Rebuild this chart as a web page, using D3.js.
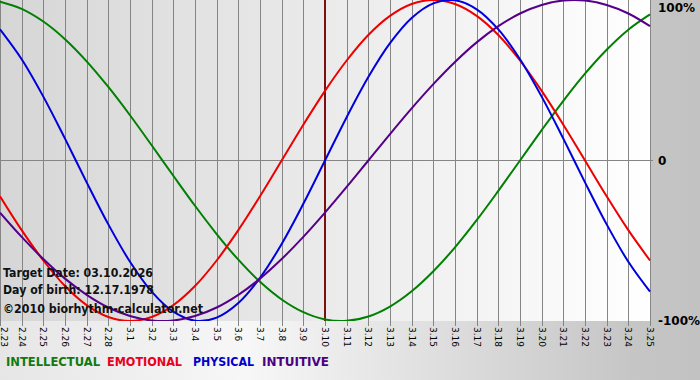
<!DOCTYPE html>
<html><head><meta charset="utf-8">
<script src="https://cdn.jsdelivr.net/npm/d3@7/dist/d3.min.js"></script>
<style>html,body{margin:0;padding:0;overflow:hidden;background:#fff}</style>
</head><body>
<svg id="chart" width="700" height="380"></svg>
<script>
const days = ["2.23","2.24","2.25","2.26","2.27","2.28","3.1","3.2","3.3","3.4","3.5","3.6","3.7","3.8","3.9","3.10","3.11","3.12","3.13","3.14","3.15","3.16","3.17","3.18","3.19","3.20","3.21","3.22","3.23","3.24","3.25"];
const intellectual = [0.990,0.945,0.866,0.756,0.618,0.458,0.282,0.095,-0.095,-0.282,-0.458,-0.618,-0.756,-0.866,-0.945,-0.990,-0.999,-0.972,-0.910,-0.815,-0.690,-0.541,-0.372,-0.189,0,0.189,0.372,0.541,0.690,0.815,0.910];
const emotional = [-0.223,-0.434,-0.623,-0.782,-0.901,-0.975,-1,-0.975,-0.901,-0.782,-0.623,-0.434,-0.223,0,0.223,0.434,0.623,0.782,0.901,0.975,1,0.975,0.901,0.782,0.623,0.434,0.223,0,-0.223,-0.434,-0.623];
const physical = [0.817,0.631,0.398,0.136,-0.136,-0.398,-0.631,-0.817,-0.942,-0.998,-0.979,-0.888,-0.731,-0.520,-0.270,0,0.270,0.520,0.731,0.888,0.979,0.998,0.942,0.817,0.631,0.398,0.136,-0.136,-0.398,-0.631,-0.817];
const intuitive = [-0.325,-0.476,-0.614,-0.736,-0.837,-0.916,-0.969,-0.997,-0.997,-0.969,-0.916,-0.837,-0.736,-0.614,-0.476,-0.325,-0.165,0,0.165,0.325,0.476,0.614,0.736,0.837,0.916,0.969,0.997,0.997,0.969,0.916,0.837];
const yTicks = [1, 0, -1];
const yTickLabels = ["100%", "0", "-100%"];
const targetDay = "3.10";
const infoLines = ["Target Date: 03.10.2026", "Day of birth: 12.17.1978", "\u00a92010 biorhythm-calculator.net"];
const seriesNames = ["INTELLECTUAL", "EMOTIONAL", "PHYSICAL", "INTUITIVE"];

const svg = d3.select("#chart");
const W = 700, H = 380, PW = 651, PH = 321;
const defs = svg.append("defs");
const g1 = defs.append("linearGradient").attr("id","outer").attr("x1","0").attr("x2","1").attr("y1","0").attr("y2","0");
g1.append("stop").attr("offset","0").attr("stop-color","#e6e6e6");
g1.append("stop").attr("offset","0.35").attr("stop-color","#f7f7f7");
g1.append("stop").attr("offset","0.9").attr("stop-color","#c6c6c6");
g1.append("stop").attr("offset","1").attr("stop-color","#c2c2c2");
const g2 = defs.append("linearGradient").attr("id","plotbg").attr("x1","0").attr("x2","1").attr("y1","0").attr("y2","0");
g2.append("stop").attr("offset","0").attr("stop-color","#d6d6d6");
g2.append("stop").attr("offset","1").attr("stop-color","#ffffff");
defs.append("clipPath").attr("id","clip").append("rect").attr("x",0).attr("y",0).attr("width",PW).attr("height",PH);

svg.append("rect").attr("width",W).attr("height",H).attr("fill","url(#outer)");
svg.append("rect").attr("width",PW).attr("height",PH).attr("fill","url(#plotbg)");

const x = d3.scalePoint().domain(days).range([0, 650]);
const y = d3.scaleLinear().domain([-1, 1]).range([321, 0]);

// vertical grid + ticks
svg.append("g").selectAll("line").data(days).join("line")
  .attr("x1", d => Math.round(x(d)) + 0.5).attr("x2", d => Math.round(x(d)) + 0.5)
  .attr("y1", 0).attr("y2", PH + 5)
  .attr("stroke", "#858585").attr("stroke-width", 1);
// zero line
svg.append("line").attr("x1",0).attr("x2",653).attr("y1",Math.floor(y(0))+0.5).attr("y2",Math.floor(y(0))+0.5)
  .attr("stroke","#858585").attr("stroke-width",1);

// x labels
svg.append("g").selectAll("text").data(days).join("text")
  .attr("transform", d => `translate(${Math.max(x(d), 4)},${PH + 6}) rotate(90)`)
  .attr("dy", "0.35em")
  .attr("font-family", "DejaVu Sans, Verdana, sans-serif").attr("font-size", "9px").attr("fill", "#000")
  .text(d => d);

// y labels
svg.append("g").selectAll("text").data(yTicks).join("text")
  .attr("x", 658).attr("y", d => Math.max(y(d), 8)).attr("dy", "0.36em")
  .attr("font-family", "DejaVu Sans, Verdana, sans-serif").attr("font-weight","bold").attr("font-size", "12px").attr("fill", "#000")
  .text((d,i) => yTickLabels[i]);

// target line
svg.append("line").attr("x1", x(targetDay)).attr("x2", x(targetDay)).attr("y1", 0).attr("y2", PH)
  .attr("stroke", "#7a1010").attr("stroke-width", 2);

const series = [
  {name: seriesNames[0], values: intellectual, color: "#008000"},
  {name: seriesNames[1], values: emotional, color: "#ee0000"},
  {name: seriesNames[2], values: physical, color: "#0000dd"},
  {name: seriesNames[3], values: intuitive, color: "#550088"}
];
const line = d3.line().x((d,i) => x(days[i])).y(d => y(d)).curve(d3.curveCatmullRom.alpha(0.5));
svg.append("g").attr("clip-path","url(#clip)").selectAll("path").data(series).join("path")
  .attr("d", d => line(d.values)).attr("fill","none").attr("stroke", d => d.color).attr("stroke-width", 2);

// info text
svg.append("g").selectAll("text").data(infoLines).join("text")
  .attr("x", 3).attr("y", (d,i) => [277, 294, 313][i])
  .attr("font-family", "DejaVu Sans, Verdana, sans-serif").attr("font-weight","bold").attr("font-size","11.5px").attr("fill","#111")
  .attr("textLength", (d,i) => [150, 151, 200][i]).attr("lengthAdjust", "spacingAndGlyphs")
  .text(d => d);

// legend
const legX = [6, 107, 193, 262];
const legW = [94, 75, 61, 67];
const legColors = ["#107a10", "#e8001c", "#0000cc", "#4b0082"];
svg.append("g").selectAll("text").data(seriesNames).join("text")
  .attr("x", (d,i) => legX[i]).attr("y", 366)
  .attr("font-family", "DejaVu Sans, Verdana, sans-serif").attr("font-weight","bold").attr("font-size","12px")
  .attr("textLength", (d,i) => legW[i]).attr("lengthAdjust", "spacingAndGlyphs")
  .attr("fill", (d,i) => legColors[i])
  .text(d => d);
</script>
</body></html>
